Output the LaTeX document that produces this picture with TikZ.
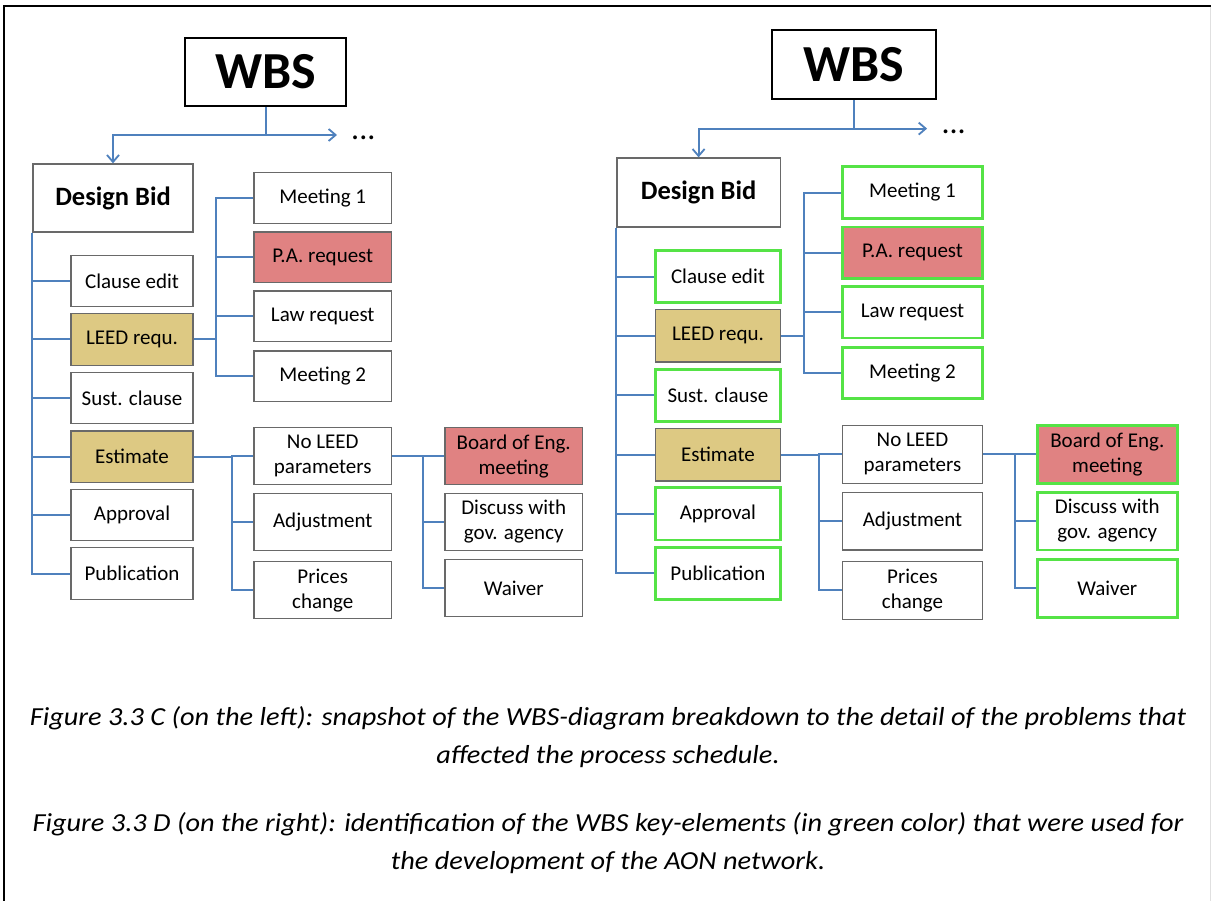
\documentclass[tikz,border=0pt]{standalone}
\usepackage{fontspec}
\setmainfont{Carlito}
\newfontfamily\capfont[FakeStretch=1.09]{Carlito}
\usetikzlibrary{arrows.meta}
\definecolor{conn}{RGB}{79,129,189}
\definecolor{boxgray}{RGB}{105,105,105}
\definecolor{tanfill}{RGB}{221,201,131}
\definecolor{redfill}{RGB}{224,130,130}
\definecolor{keygreen}{RGB}{85,227,70}
\tikzset{
  base/.style={draw=boxgray, line width=1.3pt, fill=white, inner sep=0pt, align=center,
    font=\fontsize{21}{25}\selectfont},
  wbsbox/.style={draw=black, line width=2.4pt, fill=white, inner sep=0pt,
    font=\fontsize{52}{60}\selectfont\bfseries},
  dbbox/.style={base, font=\fontsize{26.5}{30}\selectfont\bfseries},
  tanbox/.style={fill=tanfill},
  redbox/.style={fill=redfill},
  keyL/.style={},
  keyR/.style={draw=keygreen, line width=2.8pt},
  link/.style={draw=conn, line width=2pt},
  arr/.style={link, -{Straight Barb[length=7pt,width=12pt,line width=1.8pt]}},
  dotsnode/.style={inner sep=0pt, font=\fontsize{32}{36}\selectfont},
  captext/.style={align=center, inner sep=0pt, font=\capfont\fontsize{26}{38}\selectfont\itshape},
}
% #1 prefix, #2 xshift, #3 yshift, #4 xscale, #5 yscale
\newcommand\wbsdiagram[5]{%
\begin{scope}[shift={(#2,#3)}, xscale=#4, yscale=#5]
  \pgfmathsetlengthmacro\wW{161*#4}\pgfmathsetlengthmacro\hW{68*#5}%
  \pgfmathsetlengthmacro\wD{160*#4}%
  \pgfmathsetlengthmacro\wA{122*#4}\pgfmathsetlengthmacro\hA{51.5*#5}%
  \pgfmathsetlengthmacro\wB{137.5*#4}\pgfmathsetlengthmacro\hB{50.6*#5}%
  \pgfmathsetlengthmacro\hC{57*#5}%
  \node[wbsbox, minimum width=\wW, minimum height=\hW] (#1wbs) at (265.5,72) {WBS};
  \node[dbbox, minimum width=\wD, minimum height=\hW] (#1db) at (113,198) {Design Bid};
  % column A
  \node[base, key#1, minimum width=\wA, minimum height=\hA] (#1ce) at (132,281) {Clause edit};
  \node[base, tanbox, minimum width=\wA, minimum height=\hA] (#1leed) at (132,339.5) {LEED requ.};
  \node[base, key#1, minimum width=\wA, minimum height=\hA] (#1sc) at (132,398) {Sust. clause};
  \node[base, tanbox, minimum width=\wA, minimum height=\hA] (#1est) at (132,456.7) {Estimate};
  \node[base, key#1, minimum width=\wA, minimum height=\hA] (#1app) at (132,515) {Approval};
  \node[base, key#1, minimum width=\wA, minimum height=\hA] (#1pub) at (132,573.5) {Publication};
  % column B
  \node[base, key#1, minimum width=\wB, minimum height=\hB] (#1m1) at (322.75,198) {Meeting 1};
  \node[base, redbox, key#1, minimum width=\wB, minimum height=\hB] (#1pa) at (322.75,257.3) {P.A. request};
  \node[base, key#1, minimum width=\wB, minimum height=\hB] (#1law) at (322.75,316.2) {Law request};
  \node[base, key#1, minimum width=\wB, minimum height=\hB] (#1m2) at (322.75,376.2) {Meeting 2};
  \node[base, minimum width=\wB, minimum height=\hC] (#1nl) at (322.75,456.3) {No LEED\\parameters};
  \node[base, minimum width=\wB, minimum height=\hC] (#1adj) at (322.75,522.2) {Adjustment};
  \node[base, minimum width=\wB, minimum height=\hC] (#1pc) at (322.75,590.3) {Prices\\change};
  % column C
  \node[base, redbox, key#1, minimum width=\wB, minimum height=\hC] (#1boe) at (513.75,456.3) {Board of Eng.\\meeting};
  \node[base, key#1, minimum width=\wB, minimum height=\hC] (#1disc) at (513.75,522) {Discuss with\\gov. agency};
  \node[base, key#1, minimum width=\wB, minimum height=\hC] (#1wv) at (513.75,588.3) {Waiver};
  % top connectors
  \coordinate (#1j) at (265.5,135);
  \coordinate (#1jr) at (337,135);
  \node[dotsnode, anchor=base west] (#1dots) at (351,139.5) {...};
  \draw[link] (#1wbs.south) -- (#1j);
  \draw[arr] (#1j) -- (#1jr);
  \draw[arr] (#1j) -| (#1db.north);
  % trunk
  \foreach \n in {ce,leed,sc,est,app,pub} {\draw[link] (#1db.south west) |- (#1\n.west);}
  % LEED branch
  \coordinate (#1bj) at (216,339.5);
  \draw[link] (#1leed.east) -- (#1bj);
  \foreach \n in {m1,pa,law,m2} {\draw[link] (#1bj) |- (#1\n.west);}
  % Estimate branch
  \coordinate (#1ej) at (231.5,456.7);
  \draw[link] (#1est.east) -- (#1ej);
  \foreach \n in {nl,adj,pc} {\draw[link] (#1ej) |- (#1\n.west);}
  % No LEED branch
  \coordinate (#1nj) at (423,456.3);
  \draw[link] (#1nl.east) -- (#1nj);
  \foreach \n in {boe,disc,wv} {\draw[link] (#1nj) |- (#1\n.west);}
\end{scope}}
\begin{document}
\begin{tikzpicture}[x=1pt, y=-1pt]
  \useasboundingbox (0,0) rectangle (1211,901);
  \fill[white] (0,0) rectangle (1211,901);
  \draw[line width=2pt] (4,901) -- (4,6) -- (1211,6);
  \draw[black!12, line width=1pt] (1210,7) -- (1210,901);
  \wbsdiagram{L}{0}{0}{1}{1}
  \wbsdiagram{R}{583.3}{-8.3}{1.02}{1.014}
  \node[captext] (cap1) at (608,737) {Figure 3.3 C (on the left): snapshot of the WBS-diagram breakdown to the detail of the problems that\\affected the process schedule.};
  \node[captext] (cap2) at (608,843) {Figure 3.3 D (on the right): identification of the WBS key-elements (in green color) that were used for\\the development of the AON network.};
\end{tikzpicture}
\end{document}
